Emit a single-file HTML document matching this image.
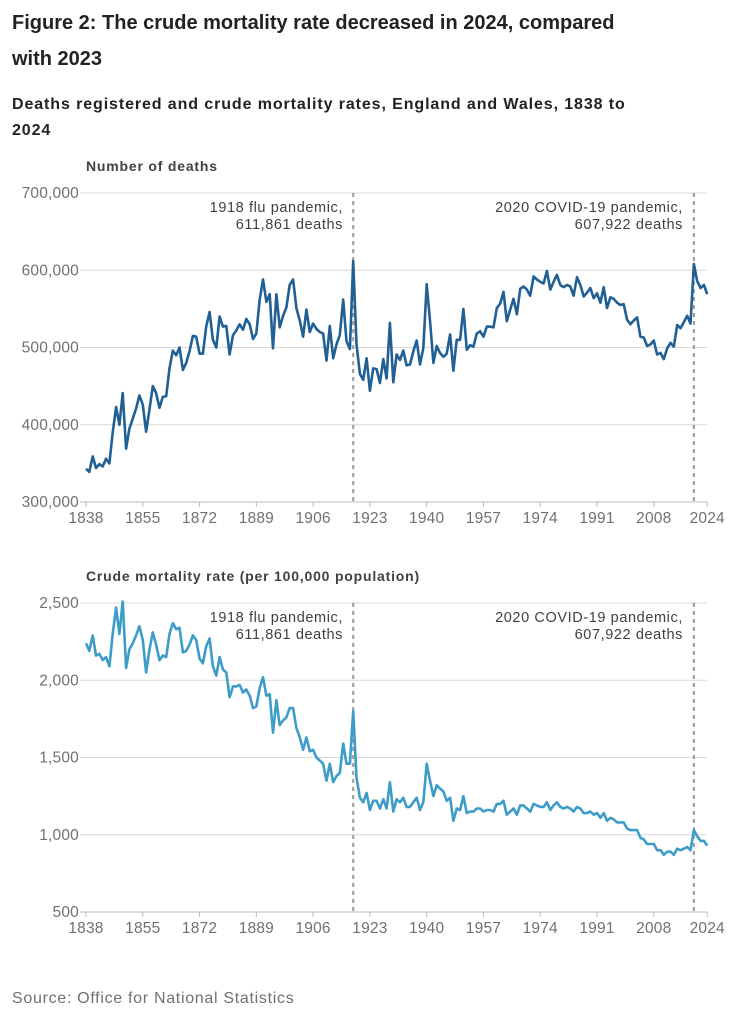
<!DOCTYPE html>
<html><head><meta charset="utf-8"><style>
html,body{margin:0;padding:0;background:#fff;width:737px;height:1024px;overflow:hidden}
svg{display:block;font-family:"Liberation Sans",sans-serif}
.t{font-size:20px;font-weight:bold;fill:#222}
.s{font-size:16px;font-weight:bold;fill:#222;letter-spacing:0.9px}
.a{font-size:14px;font-weight:bold;fill:#414042;letter-spacing:0.8px}
.tk{font-size:15.5px;fill:#707070;letter-spacing:0.2px}
.an{font-size:14.5px;fill:#414042;letter-spacing:0.6px}
.g{stroke:#d9d9d9;stroke-width:1}
</style></head><body>
<svg id="s" width="737" height="1024" xmlns="http://www.w3.org/2000/svg">
<text class="t" x="12" y="29">Figure 2: The crude mortality rate decreased in 2024, compared</text>
<text class="t" x="12" y="65">with 2023</text>
<text class="s" x="12" y="109">Deaths registered and crude mortality rates, England and Wales, 1838 to</text>
<text class="s" x="12" y="135">2024</text>
<text class="a" x="86" y="171">Number of deaths</text>
<text class="a" x="86" y="581">Crude mortality rate (per 100,000 population)</text>
<text x="12" y="1003" style="font-size:16px;fill:#707070;letter-spacing:0.7px">Source: Office for National Statistics</text>
<g id="c"></g>
</svg>
<script>
var D=[343,339,359,344,349,346,356,350,390,423,400,441,369,395,408,421,438,426,391,420,450,441,422,436,437,473,496,490,500,471,480,495,515,514,492,492,527,546,510,500,540,527,528,491,516,522,530,523,537,530,511,518,562,588,559,569,499,569,526,541,552,581,588,551,535,514,549,520,531,524,520,518,483,528,486,504,516,562,508,498,612,504,466,458,486,444,473,472,454,485,460,532,455,491,484,496,477,478,495,509,478,499,582,535,480,502,493,488,492,517,470,510,510,550,497,503,501,518,521,514,527,527,526,551,557,572,534,549,563,543,576,579,575,567,592,588,585,583,599,575,585,594,581,578,581,579,567,591,581,566,571,577,564,570,558,578,551,565,563,558,555,556,536,530,535,539,514,513,502,504,509,491,493,485,499,506,501,529,525,533,541,531,608,586,577,581,569];
var R=[2240,2190,2290,2160,2170,2130,2150,2090,2300,2470,2300,2510,2080,2200,2240,2290,2350,2260,2050,2200,2310,2230,2130,2160,2150,2300,2370,2330,2340,2180,2190,2230,2290,2260,2140,2110,2220,2270,2090,2030,2150,2070,2050,1890,1960,1960,1970,1920,1940,1900,1820,1830,1950,2020,1900,1910,1660,1870,1710,1740,1760,1820,1820,1690,1630,1550,1630,1540,1550,1500,1480,1460,1350,1460,1340,1380,1400,1590,1460,1460,1800,1370,1240,1210,1270,1160,1220,1220,1170,1230,1170,1340,1150,1230,1210,1240,1180,1180,1210,1240,1160,1210,1460,1350,1250,1320,1300,1280,1220,1240,1090,1170,1160,1250,1140,1150,1150,1170,1170,1150,1160,1160,1150,1200,1200,1220,1130,1150,1170,1130,1190,1190,1170,1150,1200,1190,1180,1180,1210,1160,1190,1210,1180,1170,1180,1170,1150,1180,1170,1140,1140,1150,1130,1140,1110,1140,1090,1110,1100,1080,1080,1080,1040,1030,1030,1030,980,970,940,940,940,900,900,870,890,890,870,910,900,910,920,900,1030,990,960,960,930];
var X=function(y){return 86+(y-1838)*3.34;};
var h='';
function chart(top,bot,vals,labels,v0,v1,col){
 var n=labels.length;
 for(var i=0;i<n;i++){var y=bot-(bot-top)*i/(n-1);
  if(i>0)h+='<line class="g" x1="80" x2="707" y1="'+y+'" y2="'+y+'"/>';
  h+='<text class="tk" x="79" y="'+(y+5)+'" text-anchor="end">'+labels[i]+'</text>';}
 h+='<line x1="80" x2="707" y1="'+bot+'" y2="'+bot+'" stroke="#bbb"/>';
 [1838,1855,1872,1889,1906,1923,1940,1957,1974,1991,2008,2024].forEach(function(yr){var x=X(yr);
  h+='<line x1="'+x+'" x2="'+x+'" y1="'+bot+'" y2="'+(bot+5)+'" stroke="#bbb"/>';
  h+='<text class="tk" x="'+x+'" y="'+(bot+21)+'" text-anchor="middle">'+yr+'</text>';});
 [1918,2020].forEach(function(yr){var x=X(yr);h+='<line x1="'+x+'" x2="'+x+'" y1="'+top+'" y2="'+bot+'" stroke="#999" stroke-width="2" stroke-dasharray="4,4"/>';});
 h+='<text class="an" x="343" y="'+(top+19)+'" text-anchor="end">1918 flu pandemic,</text><text class="an" x="343" y="'+(top+36)+'" text-anchor="end">611,861 deaths</text>';
 h+='<text class="an" x="683" y="'+(top+19)+'" text-anchor="end">2020 COVID-19 pandemic,</text><text class="an" x="683" y="'+(top+36)+'" text-anchor="end">607,922 deaths</text>';
 var p=vals.map(function(v,i){return X(1838+i).toFixed(1)+','+(bot-(v-v0)/(v1-v0)*(bot-top)).toFixed(1);}).join(' ');
 h+='<polyline points="'+p+'" fill="none" stroke="'+col+'" stroke-width="2.6" stroke-linejoin="round"/>';
}
chart(193,502,D,['300,000','400,000','500,000','600,000','700,000'],300,700,'#206095');
chart(603,912,R,['500','1,000','1,500','2,000','2,500'],500,2500,'#3d9dc8');
document.getElementById('c').innerHTML=h;
</script>
</body></html>
